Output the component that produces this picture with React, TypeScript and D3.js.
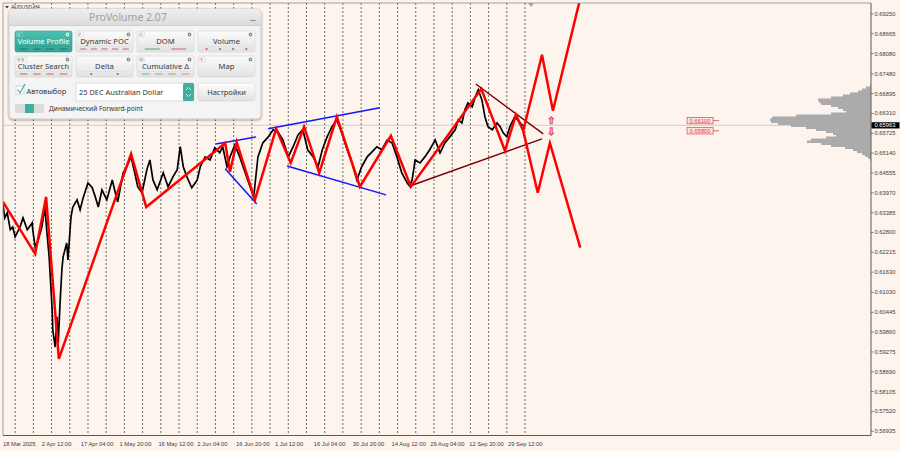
import * as d3 from "d3";

const WIDTH = 900;
const HEIGHT = 451;
const PLOT = { left: 3, top: 3, right: 871, bottom: 435.5 };
const BG = "#fdf4ee";
const AXIS_TEXT = "#3c3c3c";
const ZIGZAG = "#ff0000";
const CHANNEL = "#1414ff";
const TRIANGLE = "#7a0000";
const LEVEL = "#d94848";

// AUDUSD H4, x = bar index counted from 18 Mar 2025
const timeLabels = [
  "18 Mar 2025", "2 Apr 12:00", "17 Apr 04:00", "1 May 20:00", "16 May 12:00", "2 Jun 04:00", "16 Jun 20:00",
  "1 Jul 12:00", "16 Jul 04:00", "30 Jul 20:00", "14 Aug 12:00", "29 Aug 04:00", "12 Sep 20:00", "29 Sep 12:00",
];
const BARS_PER_LABEL = 64;
const BARS_PER_GRID = 30;
const FIRST_GRID_BAR = 20;
const LAST_GRID_BAR = 870;

const priceTicks = [
  0.6925, 0.68665, 0.6808, 0.6748, 0.66895, 0.6631, 0.65725, 0.6514, 0.64555, 0.6397, 0.63385,
  0.628, 0.62215, 0.6163, 0.6103, 0.60445, 0.5986, 0.59275, 0.5869, 0.58105, 0.5752, 0.56935,
];
const LAST_PRICE = 0.65963;

const priceLine: [number, number][] = [
  [0, 0.6361], [3, 0.6323], [7, 0.6338], [12, 0.6288], [16, 0.6296], [20, 0.6267], [28, 0.6296], [33, 0.6323],
  [40, 0.6288], [48, 0.6308], [49, 0.6288], [53, 0.6237], [58, 0.6258], [64, 0.6296], [69, 0.6355], [72, 0.6288],
  [76, 0.6208], [81, 0.6052], [82, 0.5993], [86, 0.5942], [89, 0.6031], [91, 0.5954], [94, 0.6072], [97, 0.617],
  [99, 0.6208], [105, 0.6249], [107, 0.6199], [112, 0.6326], [115, 0.6355], [122, 0.6376], [127, 0.6347],
  [132, 0.6382], [140, 0.6426], [147, 0.6412], [152, 0.6385], [157, 0.6355], [163, 0.6406], [171, 0.6376],
  [180, 0.6435], [185, 0.6397], [189, 0.637], [198, 0.6456], [204, 0.6474], [211, 0.6503], [217, 0.6456],
  [222, 0.6415], [229, 0.6397], [237, 0.6465], [242, 0.6494], [247, 0.6435], [254, 0.6406], [264, 0.6456],
  [272, 0.6415], [280, 0.6444], [287, 0.6465], [292, 0.6533], [297, 0.6474], [303, 0.6444], [311, 0.6412],
  [320, 0.6435], [325, 0.6474], [333, 0.6503], [341, 0.6494], [349, 0.653], [357, 0.6515], [362, 0.6533],
  [369, 0.6474], [374, 0.6503], [382, 0.6538], [390, 0.6503], [399, 0.6456], [407, 0.6415], [413, 0.6385],
  [420, 0.6503], [428, 0.6544], [437, 0.6562], [445, 0.6583], [453, 0.6577], [461, 0.6553], [470, 0.6503],
  [478, 0.6533], [486, 0.6568], [494, 0.6583], [502, 0.6524], [511, 0.6503], [519, 0.6474], [526, 0.6524],
  [534, 0.6562], [542, 0.6592], [550, 0.6612], [558, 0.6574], [567, 0.6524], [575, 0.6485], [583, 0.6435],
  [591, 0.6474], [600, 0.6503], [608, 0.6518], [616, 0.6533], [624, 0.6524], [633, 0.6553], [641, 0.6544],
  [649, 0.6503], [657, 0.6456], [666, 0.6426], [670, 0.6417], [674, 0.6435], [679, 0.6494], [687, 0.6485],
  [695, 0.6503], [703, 0.6524], [712, 0.6553], [720, 0.6515], [728, 0.6544], [736, 0.6562], [745, 0.6583],
  [750, 0.6612], [756, 0.6603], [761, 0.6642], [766, 0.6662], [773, 0.6651], [778, 0.668], [783, 0.6701],
  [789, 0.6671], [794, 0.6621], [799, 0.6592], [806, 0.6583], [814, 0.6603], [819, 0.6592], [824, 0.6574],
  [830, 0.6562], [835, 0.6592], [843, 0.6621], [848, 0.6612], [855, 0.6597], [857, 0.6596],
];

const zigzag: [number, number][] = [
  [0, 0.637], [53, 0.6217], [71, 0.6385], [92, 0.5907], [211, 0.6512], [236, 0.6355], [366, 0.6544],
  [374, 0.6459], [385, 0.6547], [415, 0.6376], [450, 0.6586], [474, 0.6485], [496, 0.6592], [521, 0.6456],
  [550, 0.6621], [588, 0.6415], [639, 0.6565], [672, 0.6415], [788, 0.6704], [827, 0.6521], [845, 0.6627],
  [857, 0.658],
];
const forwardUp: [number, number][] = [[857, 0.658], [888, 0.6804], [906, 0.6639], [955, 0.7]];
const forwardDown: [number, number][] = [[857, 0.658], [881, 0.6397], [901, 0.6544], [951, 0.6235]];

const channelLines: [number, number][][] = [
  [[351, 0.6541], [417, 0.6562]],
  [[366, 0.6468], [418, 0.6364]],
  [[437, 0.6586], [621, 0.6648]],
  [[468, 0.6476], [631, 0.6391]],
];
const triangleLines: [number, number][][] = [
  [[779, 0.6718], [890, 0.6571]],
  [[675, 0.642], [888, 0.6556]],
];

const targetLevels = [0.661, 0.658];
const TARGET_ARROW_BAR = 903;
const TARGET_LABEL_BAR = 1127;

// volume profile bins, top price down
const PROFILE_TOP = 0.6713;
const PROFILE_STEP = 0.00059;
const profileVolumes = [
  1, 5, 9, 13, 21, 28, 40, 53, 52, 50, 40, 33, 28, 25, 40, 75, 99, 101, 100, 93, 80, 65, 55, 45, 38, 35, 45, 60,
  64, 50, 40, 26, 18, 14, 9, 6, 3, 1,
];
const POC_LINE_START_BAR = 1214;

const x = d3.scaleLinear().domain([0, 1430]).range([PLOT.left, PLOT.right]);
const y = d3.scaleLinear().domain([0.5681, 0.6957]).range([PLOT.bottom, PLOT.top]);
const vol = d3.scaleLinear().domain([0, 101]).range([0, 101]);
const line = d3.line<[number, number]>().x((d) => x(d[0])).y((d) => y(d[1]));

const panelButtons = [
  { label: "Volume Profile", hot: "V", kind: "dash", marks: ["#2d6b60", "#2d6b60", "#2d6b60", "#2d6b60"], active: true },
  { label: "Dynamic POC", hot: "P", kind: "dash", marks: ["#d35050", "#d35050", "#d35050", "#d35050", "#d35050"] },
  { label: "DOM", hot: "D", kind: "dash", marks: ["#4a9a5a", "#d35050"] },
  { label: "Volume", hot: "", kind: "dot", marks: ["#d35050", "#3a9a50", "#d35050", "#d35050"] },
  { label: "Cluster Search", hot: "R N", kind: "dash", marks: ["#d35050", "#d35050", "#d35050", "#d35050"] },
  { label: "Delta", hot: "", kind: "dot", marks: ["#3a9a50", "#d35050"] },
  { label: "Cumulative Δ", hot: "M", kind: "dash", marks: ["#6aaa80", "#6aaa80", "#6aaa80", "#d38080"] },
  { label: "Map", hot: "F", kind: "none", marks: [] as string[] },
];

function ProVolumePanel() {
  const cols = [15, 76, 137, 198];
  const rows = [31, 56];
  const bw = 57;
  const bh = 21;
  return (
    <g fontFamily="'Noto Sans', 'DejaVu Sans', sans-serif">
      <defs>
        <linearGradient id="btnGrad" x1="0" y1="0" x2="0" y2="1">
          <stop offset="0" stopColor="#fcfcfc" />
          <stop offset="1" stopColor="#e2e2e2" />
        </linearGradient>
        <linearGradient id="activeGrad" x1="0" y1="0" x2="0" y2="1">
          <stop offset="0" stopColor="#4dbfb0" />
          <stop offset="1" stopColor="#33a595" />
        </linearGradient>
        <linearGradient id="titleGrad" x1="0" y1="0" x2="0" y2="1">
          <stop offset="0" stopColor="#eeeeee" />
          <stop offset="1" stopColor="#dcdcdc" />
        </linearGradient>
        <filter id="panelShadow" x="-5%" y="-5%" width="110%" height="115%">
          <feDropShadow dx="0" dy="1" stdDeviation="1.3" floodColor="#000" floodOpacity="0.35" />
        </filter>
      </defs>
      <rect x={9} y={9} width={252} height={110} rx={4} fill="#f4f4f4" stroke="#c8c8c8" filter="url(#panelShadow)" />
      <path d="M9 25 V13 Q9 9 13 9 H257 Q261 9 261 13 V25 Z" fill="url(#titleGrad)" />
      <line x1={9} x2={261} y1={25.5} y2={25.5} stroke="#cfcfcf" />
      <text x={128} y={21} textAnchor="middle" fontSize={10.5} fill="#a0a0a0">ProVolume 2.07</text>
      <line x1={250} x2={256} y1={20.5} y2={20.5} stroke="#9a9a9a" strokeWidth={1.2} />

      {panelButtons.map((b, i) => {
        const bx = cols[i % 4];
        const by = rows[Math.floor(i / 4)];
        const segW = b.marks.length ? (bw - 4) / b.marks.length : 0;
        return (
          <g key={b.label}>
            <rect x={bx} y={by} width={bw} height={bh} rx={2} fill={b.active ? "url(#activeGrad)" : "url(#btnGrad)"} stroke={b.active ? "#2f9a8a" : "#d4d4d4"} strokeWidth={0.6} />
            {b.hot && (
              <g>
                <rect x={bx + 1.5} y={by + 1} width={b.hot.length > 1 ? 10 : 6} height={4.5} rx={0.8} fill="none" stroke={b.active ? "#8fd8cc" : "#cfcfcf"} strokeWidth={0.5} />
                <text x={bx + 2.5} y={by + 4.6} fontSize={4} fill={b.active ? "#e8fffb" : "#777"}>{b.hot}</text>
              </g>
            )}
            <circle cx={bx + bw - 4.5} cy={by + 3.5} r={1.9} fill={b.active ? "#dff5f1" : "#8a8a8a"} />
            <circle cx={bx + bw - 4.5} cy={by + 3.5} r={0.7} fill={b.active ? "#3db0a0" : "#e6e6e6"} />
            <text x={bx + bw / 2} y={by + 12.5} textAnchor="middle" fontSize={7.6} fill={b.active ? "#ffffff" : "#3a3a3a"}>{b.label}</text>
            {b.marks.length > 0 && (
              <line x1={bx + 1} x2={bx + bw - 1} y1={by + 15.5} y2={by + 15.5} stroke={b.active ? "#2e9585" : "#dadada"} strokeWidth={0.5} />
            )}
            {b.marks.map((c, j) => {
              const sx = bx + 2 + j * segW;
              return b.kind === "dot" ? (
                <circle key={j} cx={sx + segW / 2} cy={by + 18} r={1.1} fill={c} />
              ) : (
                <line key={j} x1={sx + segW * 0.22} x2={sx + segW * 0.78} y1={by + 18} y2={by + 18} stroke={c} strokeWidth={0.9} />
              );
            })}
          </g>
        );
      })}

      <rect x={16} y={86} width={8} height={8} fill="#fff" stroke="#c0c0c0" strokeWidth={0.6} />
      <path d="M17.5 89.5 L20 93 L25 84" fill="none" stroke="#3db0a0" strokeWidth={1.2} />
      <text x={26.5} y={93.5} fontSize={7.4} fill="#333">Автовыбор</text>
      <rect x={76} y={83} width={118} height={18} rx={1.5} fill="#fff" stroke="#d0d0d0" strokeWidth={0.7} />
      <text x={79} y={95} fontSize={7.4} fill="#333">25 DEC Australian Dollar</text>
      <rect x={183} y={83} width={11} height={18} rx={1.5} fill="#3db0a0" />
      <path d="M186 90 L188.5 87.5 L191 90 M186 94 L188.5 96.5 L191 94" fill="none" stroke="#fff" strokeWidth={0.7} />
      <rect x={198} y={83} width={57} height={18} rx={2} fill="url(#btnGrad)" stroke="#d4d4d4" strokeWidth={0.6} />
      <text x={226.5} y={95} textAnchor="middle" fontSize={7.4} fill="#3a3a3a">Настройки</text>
      <rect x={15} y={104} width={29} height={9} rx={1.5} fill="#dcdcdc" />
      <rect x={25} y={104} width={9} height={9} fill="#3db0a0" />
      <text x={49} y={111.2} fontSize={6.6} fill="#333">Динамический Forward-point</text>
    </g>
  );
}

export default function App() {
  const gridBars = d3.range(FIRST_GRID_BAR, LAST_GRID_BAR + 1, BARS_PER_GRID);
  const lastY = y(LAST_PRICE);

  return (
    <svg width={WIDTH} height={HEIGHT} viewBox={`0 0 ${WIDTH} ${HEIGHT}`} style={{ display: "block", position: "absolute", left: 0, top: 0 }} fontFamily="'Liberation Sans', Arial, sans-serif">
      <defs>
        <clipPath id="plotClip">
          <rect x={PLOT.left} y={PLOT.top} width={PLOT.right - PLOT.left} height={PLOT.bottom - PLOT.top} />
        </clipPath>
        <linearGradient id="pocGrad" x1="0" y1="0" x2="1" y2="0">
          <stop offset="0" stopColor="#e7a3a3" stopOpacity="0" />
          <stop offset="1" stopColor="#e07a7a" stopOpacity="0.9" />
        </linearGradient>
      </defs>
      <rect x={0} y={0} width={WIDTH} height={HEIGHT} fill={BG} />

      {/* weekly grid */}
      {gridBars.map((b) => (
        <line key={b} x1={x(b)} x2={x(b)} y1={PLOT.top} y2={PLOT.bottom} stroke="#4a4a4a" strokeWidth={0.8} strokeDasharray="2 2" />
      ))}

      {/* bid line */}
      <line x1={PLOT.left} x2={PLOT.right} y1={lastY} y2={lastY} stroke="#c4c0bc" strokeWidth={0.8} />

      <g clipPath="url(#plotClip)">
        <path d={line(priceLine) ?? undefined} fill="none" stroke="#000" strokeWidth={1.7} strokeLinejoin="miter" />

        {/* volume profile */}
        {profileVolumes.map((v, i) => {
          const p = PROFILE_TOP - i * PROFILE_STEP;
          return <rect key={i} x={PLOT.right - vol(v)} y={y(p) - 1.2} width={vol(v)} height={2.5} fill="#ababab" />;
        })}
        <line x1={x(POC_LINE_START_BAR)} x2={PLOT.right} y1={lastY} y2={lastY} stroke="url(#pocGrad)" strokeWidth={1} />

        {channelLines.map((seg, i) => (
          <path key={`c${i}`} d={line(seg) ?? undefined} stroke={CHANNEL} strokeWidth={1.5} fill="none" />
        ))}
        {triangleLines.map((seg, i) => (
          <path key={`t${i}`} d={line(seg) ?? undefined} stroke={TRIANGLE} strokeWidth={1.4} fill="none" />
        ))}
        <path d={line(zigzag) ?? undefined} stroke={ZIGZAG} strokeWidth={2.5} fill="none" strokeLinejoin="miter" />
        <path d={line(forwardUp) ?? undefined} stroke={ZIGZAG} strokeWidth={2.5} fill="none" />
        <path d={line(forwardDown) ?? undefined} stroke={ZIGZAG} strokeWidth={2.5} fill="none" />
      </g>

      {/* target arrows */}
      <text x={x(TARGET_ARROW_BAR)} y={y(targetLevels[0]) + 3} textAnchor="middle" fontSize={10} fill="#ffecec" stroke="#e05050" strokeWidth={0.6} fontFamily="'DejaVu Sans', sans-serif">⇧</text>
      <text x={x(TARGET_ARROW_BAR)} y={y(targetLevels[1]) + 4} textAnchor="middle" fontSize={10} fill="#ffecec" stroke="#e05050" strokeWidth={0.6} fontFamily="'DejaVu Sans', sans-serif">⇩</text>

      {/* target price labels */}
      {targetLevels.map((p) => (
        <g key={p}>
          <rect x={x(TARGET_LABEL_BAR)} y={y(p) - 3.2} width={26} height={6.4} fill="#fde6e1" stroke={LEVEL} strokeWidth={0.7} />
          <line x1={x(TARGET_LABEL_BAR) + 26} x2={x(TARGET_LABEL_BAR) + 32} y1={y(p)} y2={y(p)} stroke={LEVEL} strokeWidth={0.8} />
          <text x={x(TARGET_LABEL_BAR) + 13} y={y(p) + 2.1} textAnchor="middle" fontSize={5.8} fill={LEVEL}>{p.toFixed(5)}</text>
        </g>
      ))}

      {/* frame */}
      <line x1={PLOT.left} x2={PLOT.left} y1={PLOT.top} y2={PLOT.bottom} stroke="#8a8a8a" strokeWidth={0.8} />
      <line x1={PLOT.left} x2={PLOT.right} y1={PLOT.top} y2={PLOT.top} stroke="#8a8a8a" strokeWidth={0.8} />
      <line x1={PLOT.right} x2={PLOT.right} y1={PLOT.top} y2={PLOT.bottom} stroke="#5a5a5a" strokeWidth={1} />
      <line x1={PLOT.left} x2={PLOT.right} y1={PLOT.bottom} y2={PLOT.bottom} stroke="#5a5a5a" strokeWidth={1} />

      {/* chart shift marker */}
      <path d={`M${x(LAST_GRID_BAR) - 3} ${PLOT.top} L${x(LAST_GRID_BAR) + 3} ${PLOT.top} L${x(LAST_GRID_BAR)} ${PLOT.top + 4} Z`} fill="#a0a0a0" />

      {/* price axis */}
      {priceTicks.map((p) => (
        <g key={p}>
          <line x1={PLOT.right} x2={PLOT.right + 2.5} y1={y(p)} y2={y(p)} stroke="#5a5a5a" strokeWidth={0.8} />
          <text x={PLOT.right + 3.5} y={y(p) + 2} fontSize={5.8} fill={AXIS_TEXT}>{p.toFixed(5)}</text>
        </g>
      ))}
      <rect x={PLOT.right + 0.5} y={lastY - 3} width={28} height={6.2} fill="#000" />
      <text x={PLOT.right + 3.5} y={lastY + 2} fontSize={5.8} fill="#fff">{LAST_PRICE.toFixed(5)}</text>

      {/* time axis */}
      {timeLabels.map((t, i) => (
        <text key={t} x={x(i * BARS_PER_LABEL)} y={445.5} fontSize={5.8} fill={AXIS_TEXT}>{t}</text>
      ))}

      {/* symbol caption */}
      <path d="M5 6 L9 6 L7 8.5 Z" fill="#333" />
      <text x={11} y={8.5} fontSize={5} fill="#333">AUDUSD,H4</text>

      <ProVolumePanel />
    </svg>
  );
}
